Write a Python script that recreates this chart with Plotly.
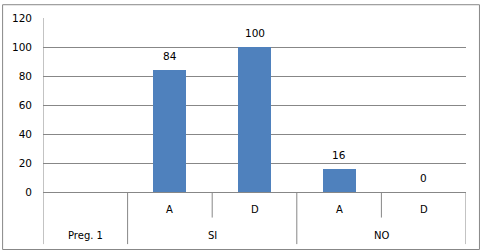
import plotly.graph_objects as go

groups = ["Preg. 1", "SI", "SI", "NO", "NO"]
subs = ["", "A", "D", "A", "D"]
values = [None, 84, 100, 16, 0]
y_ticks = [0, 20, 40, 60, 80, 100, 120]

ids = list(range(len(values)))
FONT = "DejaVu Sans"
GRID = "#878787"

# plot area in pixels: x 42..466, y 15..192
PH = 177.0
def py(pix):
    return (192 - pix) / PH

fig = go.Figure()
fig.add_trace(go.Bar(
    x=ids, y=values,
    marker=dict(color="#4F81BD", line=dict(width=0)),
    width=0.39, showlegend=False, hoverinfo="skip"))

ann = []
for i, v in zip(ids, values):
    if v is not None:
        ann.append(dict(x=i, y=v, xref="x", yref="y", text=str(v), showarrow=False,
                        yanchor="bottom", yshift=6,
                        font=dict(family=FONT, size=10.5, color="#000")))
for i, s in zip(ids, subs):
    if s:
        ann.append(dict(x=i, y=py(210), xref="x", yref="paper", text=s, showarrow=False,
                        yanchor="middle", font=dict(family=FONT, size=10, color="#000")))
seen = []
for g in groups:
    if g not in seen:
        seen.append(g)
for g in seen:
    idx = [i for i, gg in zip(ids, groups) if gg == g]
    cx = (idx[0] + idx[-1]) / 2
    ann.append(dict(x=cx, y=py(236), xref="x", yref="paper", text=g, showarrow=False,
                    yanchor="middle", font=dict(family=FONT, size=10, color="#000")))

shapes = []
for b in range(len(ids) + 1):
    xb = b - 0.5
    if b == 0 or b == len(ids) or groups[b - 1] != groups[b]:
        y1 = py(245)
    else:
        y1 = py(218)
    shapes.append(dict(type="line", xref="x", yref="paper", x0=xb, x1=xb, y0=0, y1=y1,
                       line=dict(color=GRID, width=1)))
shapes.append(dict(type="line", xref="x", yref="paper", x0=-0.5, x1=-0.5, y0=1, y1=0,
                   line=dict(color=GRID, width=1)))
shapes.append(dict(type="rect", xref="paper", yref="paper",
                   x0=(1.5 - 42) / 424, x1=(479.5 - 42) / 424,
                   y0=py(250.5), y1=py(1.5), line=dict(color=GRID, width=1)))

fig.update_layout(
    width=481, height=252,
    margin=dict(l=42, r=15, t=15, b=60),
    plot_bgcolor="white", paper_bgcolor="white",
    annotations=ann, shapes=shapes, bargap=0,
    xaxis=dict(range=[-0.5, 4.5], showticklabels=False, showgrid=False, zeroline=False,
               showline=False, ticks="", fixedrange=True),
    yaxis=dict(range=[0, 120], tickvals=y_ticks, showgrid=True, gridcolor=GRID, gridwidth=1,
               zeroline=True, zerolinecolor=GRID, zerolinewidth=1, showline=False, ticks="",
               ticklabelstandoff=10,
               tickfont=dict(family=FONT, size=10.5, color="#000"), fixedrange=True),
    font=dict(family=FONT, size=10, color="#000"),
)
fig.write_html("out.html", config={"displayModeBar": False})
